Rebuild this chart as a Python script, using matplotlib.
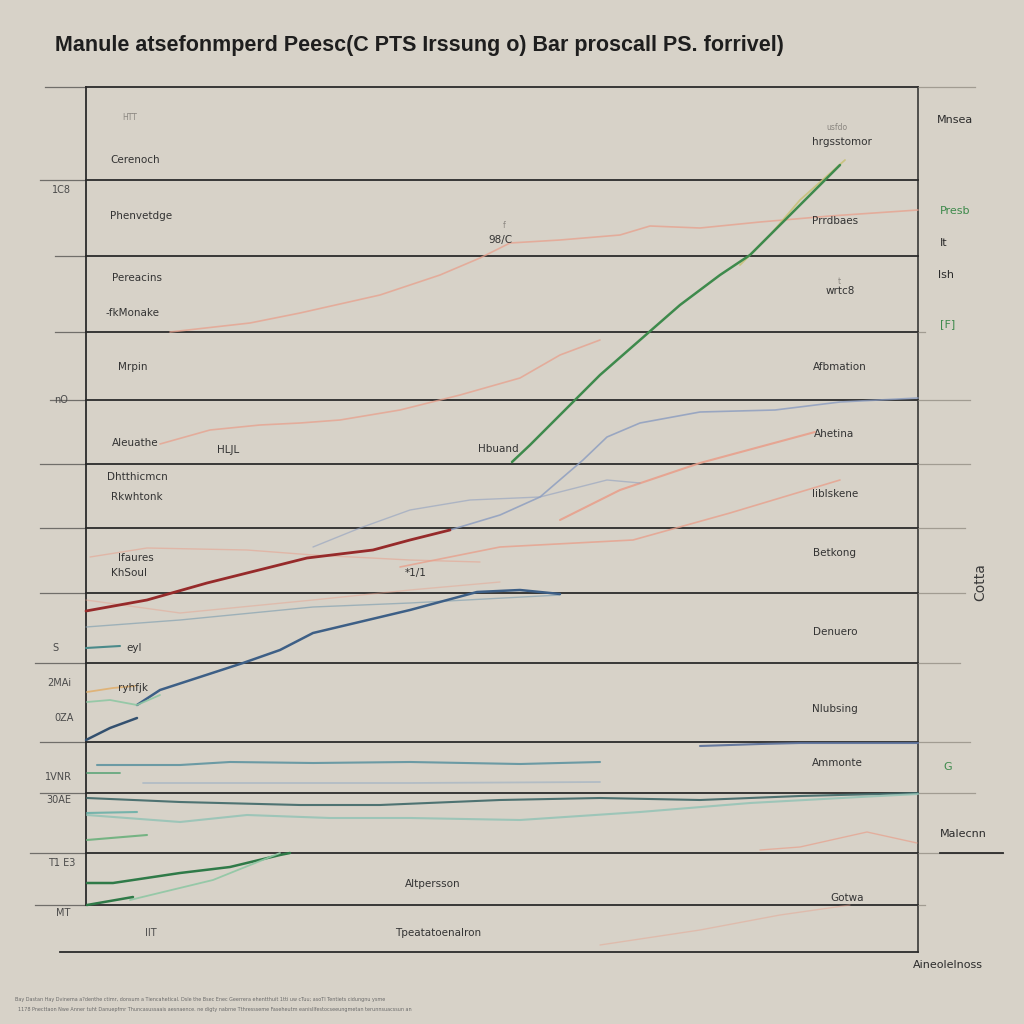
import numpy as np
import matplotlib
matplotlib.use('Agg')
import matplotlib.pyplot as plt

# colours
bg = '#d7d2c8'
ink = '#2b2b2b'

# frame, in picture units (0..1024, y down)
frame_x = [86, 918]
frame_top = 87
frame_bot = 952
# horizontal rules
rules_y = [87, 180, 256, 332, 400, 464, 528, 593, 663, 742, 793, 853, 905]
rule_left = [45, 40, 55, 55, 50, 40, 40, 40, 35, 40, 40, 30, 35]
rule_right_ext = [975, 918, 918, 925, 970, 970, 965, 965, 960, 970, 975, 1003, 925]

# series: (x list, y list, colour, width, alpha)
s_green_x = [512, 530, 560, 600, 640, 680, 720, 750, 790, 840]
s_green_y = [462, 445, 415, 375, 340, 305, 275, 255, 215, 165]
s_olive_x = [740, 770, 800, 845]
s_olive_y = [265, 235, 200, 160]
s_salmon1_x = [170, 250, 300, 380, 440, 480, 510, 560, 620, 650, 700, 760, 830, 918]
s_salmon1_y = [332, 323, 313, 295, 275, 258, 243, 240, 235, 226, 228, 222, 216, 210]
s_salmon2_x = [160, 210, 260, 300, 340, 400, 460, 520, 560, 600]
s_salmon2_y = [444, 430, 425, 423, 420, 410, 395, 378, 355, 340]
s_red_x = [86, 147, 207, 247, 307, 373, 410, 450]
s_red_y = [611, 600, 583, 573, 558, 550, 540, 530]
s_blue_x = [137, 160, 243, 280, 313, 410, 477, 520, 560]
s_blue_y = [705, 690, 663, 650, 633, 610, 592, 590, 594]
s_blue_short_x = [86, 110, 137]
s_blue_short_y = [740, 728, 718]
s_ltblue_x = [450, 500, 540, 583, 607, 640, 700, 775, 840, 918]
s_ltblue_y = [530, 515, 497, 460, 437, 423, 412, 410, 402, 398]
s_ltblue2_x = [313, 360, 410, 470, 540, 607, 640]
s_ltblue2_y = [547, 528, 510, 500, 497, 480, 483]
s_salmon3_x = [400, 500, 633, 730, 840]
s_salmon3_y = [567, 547, 540, 513, 480]
s_salmon4_x = [560, 620, 700, 815]
s_salmon4_y = [520, 490, 463, 432]
s_salmon5_x = [90, 147, 247, 313, 410, 480]
s_salmon5_y = [557, 548, 550, 555, 560, 562]
s_grey1_x = [86, 180, 313, 410, 560]
s_grey1_y = [627, 620, 607, 603, 595]
s_salmon6_x = [86, 180, 313, 410, 500]
s_salmon6_y = [600, 613, 600, 590, 582]
s_teal_short_x = [86, 120]
s_teal_short_y = [648, 646]
s_orange_x = [87, 113, 135]
s_orange_y = [692, 688, 686]
s_ltgreen_x = [87, 110, 137, 160]
s_ltgreen_y = [702, 700, 705, 695]
s_teal2_x = [97, 180, 230, 313, 410, 520, 600]
s_teal2_y = [765, 765, 762, 763, 762, 764, 762]
s_navy_x = [700, 760, 800, 860, 918]
s_navy_y = [746, 744, 743, 743, 743]
s_grey2_x = [143, 300, 410, 600]
s_grey2_y = [783, 783, 783, 782]
s_green2_x = [87, 120]
s_green2_y = [773, 773]
s_dkteal_x = [87, 180, 300, 380, 500, 600, 700, 800, 918]
s_dkteal_y = [798, 802, 805, 805, 800, 798, 800, 796, 793]
s_ltteal_x = [87, 180, 247, 330, 410, 520, 640, 750, 860, 918]
s_ltteal_y = [815, 822, 815, 818, 818, 820, 812, 803, 797, 794]
s_teal3_x = [87, 137]
s_teal3_y = [813, 812]
s_green3_x = [87, 147]
s_green3_y = [840, 835]
s_salmon7_x = [760, 800, 867, 917]
s_salmon7_y = [850, 847, 832, 843]
s_dkgreen_x = [87, 113, 180, 230, 280, 290]
s_dkgreen_y = [883, 883, 873, 867, 855, 853]
s_ltgreen2_x = [130, 213, 280]
s_ltgreen2_y = [900, 880, 853]
s_dkgreen2_x = [87, 133]
s_dkgreen2_y = [905, 897]
s_salmon8_x = [600, 700, 780, 850]
s_salmon8_y = [945, 930, 915, 905]

series = [
    (s_salmon1_x, s_salmon1_y, '#e8a08c', 1.2, 0.75),
    (s_salmon2_x, s_salmon2_y, '#e8a08c', 1.2, 0.75),
    (s_salmon3_x, s_salmon3_y, '#e8a08c', 1.2, 0.8),
    (s_salmon4_x, s_salmon4_y, '#e8a08c', 1.5, 0.9),
    (s_salmon5_x, s_salmon5_y, '#e8a08c', 1.0, 0.55),
    (s_salmon6_x, s_salmon6_y, '#e8a08c', 1.0, 0.45),
    (s_salmon7_x, s_salmon7_y, '#e8a08c', 1.0, 0.7),
    (s_salmon8_x, s_salmon8_y, '#e8a08c', 1.0, 0.45),
    (s_ltblue_x, s_ltblue_y, '#8a9cc0', 1.2, 0.8),
    (s_ltblue2_x, s_ltblue2_y, '#8a9cc0', 1.0, 0.55),
    (s_grey1_x, s_grey1_y, '#7f9fb0', 1.0, 0.65),
    (s_grey2_x, s_grey2_y, '#a9b7c4', 1.3, 0.8),
    (s_olive_x, s_olive_y, '#c8c27a', 1.3, 0.9),
    (s_green_x, s_green_y, '#3e8a4c', 1.8, 1.0),
    (s_red_x, s_red_y, '#962a2a', 2.0, 1.0),
    (s_blue_x, s_blue_y, '#3d5f86', 1.8, 1.0),
    (s_blue_short_x, s_blue_short_y, '#33506f', 1.8, 1.0),
    (s_teal_short_x, s_teal_short_y, '#4a8a8a', 1.5, 1.0),
    (s_orange_x, s_orange_y, '#e0b070', 1.3, 0.9),
    (s_ltgreen_x, s_ltgreen_y, '#8fc7a4', 1.3, 0.9),
    (s_teal2_x, s_teal2_y, '#5f94a0', 1.5, 0.9),
    (s_navy_x, s_navy_y, '#5a6f9a', 1.5, 0.9),
    (s_green2_x, s_green2_y, '#5aa478', 1.3, 0.9),
    (s_dkteal_x, s_dkteal_y, '#3f6868', 1.5, 0.9),
    (s_ltteal_x, s_ltteal_y, '#8fc2b4', 1.5, 0.8),
    (s_teal3_x, s_teal3_y, '#6bb0a8', 1.5, 0.9),
    (s_green3_x, s_green3_y, '#6bb07c', 1.5, 0.9),
    (s_dkgreen_x, s_dkgreen_y, '#2f7a48', 1.8, 1.0),
    (s_ltgreen2_x, s_ltgreen2_y, '#8fc7a4', 1.3, 0.9),
    (s_dkgreen2_x, s_dkgreen2_y, '#2f7a48', 1.8, 1.0),
]

# text labels (x, y, text)
inner_labels = [
    (110, 160, 'Cerenoch'), (110, 216, 'Phenvetdge'), (112, 278, 'Pereacins'),
    (106, 313, '-fkMonake'), (118, 367, 'Mrpin'), (112, 443, 'Aleuathe'),
    (217, 450, 'HLJL'), (107, 477, 'Dhtthicmcn'), (111, 497, 'Rkwhtonk'),
    (118, 558, 'Ifaures'), (111, 573, 'KhSoul'), (126, 648, 'eyl'),
    (118, 688, 'ryhfjk'), (488, 240, '98/C'), (478, 449, 'Hbuand'),
    (405, 573, '*1/1'), (405, 884, 'Altpersson'), (395, 933, 'Tpeatatoenalron'),
    (812, 142, 'hrgsstomor'), (812, 221, 'Prrdbaes'), (826, 291, 'wrtc8'),
    (813, 367, 'Afbmation'), (814, 434, 'Ahetina'), (812, 494, 'Iiblskene'),
    (813, 553, 'Betkong'), (813, 632, 'Denuero'), (812, 709, 'Nlubsing'),
    (812, 763, 'Ammonte'), (830, 898, 'Gotwa'),
]
left_labels = [
    (52, 190, '1C8'), (52, 648, 'S'), (47, 683, '2MAi'), (54, 718, '0ZA'),
    (45, 777, '1VNR'), (46, 800, '30AE'), (48, 863, 'T1 E3'), (56, 913, 'MT'),
    (145, 933, 'IIT'), (54, 400, 'nO'),
]
faint_labels = [(122, 117, 'HTT'), (826, 127, 'usfdo'), (503, 225, 'f'), (838, 281, 't')]
right_labels = [
    (937, 120, 'Mnsea', ink), (940, 211, 'Presb', '#3e8a4c'), (940, 243, 'It', ink),
    (938, 275, 'lsh', ink), (940, 324, '[F]', '#3e8a4c'), (943, 767, 'G', '#3e8a4c'),
    (940, 834, 'Malecnn', ink), (913, 965, 'Aineolelnoss', ink),
]

title = 'Manule atsefonmperd Peesc(C PTS Irssung o) Bar proscall PS. forrivel)'
foot1 = ('Bay Dastan Hay Dvinema a?denthe ctimr, donsum a Tiencahetical. Dsle the Bsec Enec '
         'Geerrera ehentthuit 1tti uw cTuu; asoTl Tentiets cidungnu ysme')
foot2 = ('1178 Pnecttaon Nwe Anner tuht Danuepfmr Thuncasussaais aesnaence. ne digty nabrne '
         'Tthressseme Faseheutm eanisllfestocseeungmetan terunnsuacssun an')

fig = plt.figure(figsize=(10.24, 10.24), dpi=100, facecolor=bg)
ax = fig.add_axes([0, 0, 1, 1])
ax.set_xlim(0, 1024)
ax.set_ylim(1024, 0)
ax.axis('off')
ax.set_facecolor(bg)

# frame
ax.plot([frame_x[0], frame_x[0]], [frame_top, 905], color=ink, lw=1.3)
ax.plot([frame_x[1], frame_x[1]], [frame_top, frame_bot], color=ink, lw=1.1)
ax.plot([60, frame_x[1]], [frame_bot, frame_bot], color=ink, lw=1.3)

# rules and their stubs
for yy, l, r in zip(rules_y, rule_left, rule_right_ext):
    ax.plot([frame_x[0], frame_x[1]], [yy, yy], color=ink, lw=1.3)
    ax.plot([l, frame_x[0]], [yy, yy], color=ink, lw=0.9, alpha=0.6)
    if r > frame_x[1]:
        ax.plot([frame_x[1], r], [yy, yy], color='#8a857c', lw=0.9, alpha=0.7)
ax.plot([940, 1003], [853, 853], color=ink, lw=1.3)

for xs, ys, c, lw, a in series:
    ax.plot(xs, ys, color=c, lw=lw, alpha=a, solid_capstyle='round')

for x, y, t in inner_labels:
    ax.text(x, y, t, fontsize=7.5, color='#333333', va='center', ha='left')
for x, y, t in left_labels:
    ax.text(x, y, t, fontsize=7, color='#4a4a4a', va='center', ha='left')
for x, y, t in faint_labels:
    ax.text(x, y, t, fontsize=5.5, color='#8a8680', va='center', ha='left')
for x, y, t, c in right_labels:
    ax.text(x, y, t, fontsize=8, color=c, va='center', ha='left')
ax.text(980, 582, 'Cotta', fontsize=10, color='#3a3a3a', rotation=90, va='center', ha='center')

ax.text(55, 45, title, fontsize=15.5, fontweight='bold', color='#1e1e1e',
        va='center', ha='left', family='Liberation Sans')
ax.text(15, 1000, foot1, fontsize=3.5, color='#6a6a6a', va='center', ha='left')
ax.text(18, 1010, foot2, fontsize=3.5, color='#6a6a6a', va='center', ha='left')

plt.savefig('out.png', dpi=100, facecolor=bg)
plt.close()
